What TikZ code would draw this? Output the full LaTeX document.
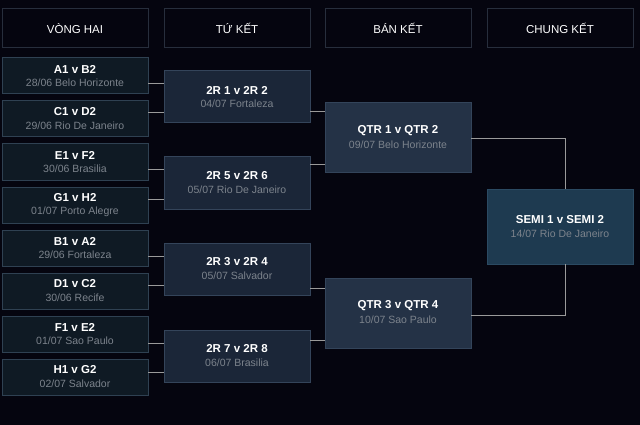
\documentclass[tikz,border=0pt]{standalone}
\usepackage{fontspec}
\setmainfont{Liberation Sans}
\usetikzlibrary{calc}
\definecolor{bgc}{HTML}{05050F}
\definecolor{hdrbd}{HTML}{272E3C}
\definecolor{rtwofill}{HTML}{0F1A24}
\definecolor{rtwobd}{HTML}{2F4152}
\definecolor{qffill}{HTML}{1B2638}
\definecolor{qfbd}{HTML}{34445A}
\definecolor{sffill}{HTML}{243246}
\definecolor{sfbd}{HTML}{33445A}
\definecolor{finfill}{HTML}{1E3A50}
\definecolor{finbd}{HTML}{2B4A62}
\definecolor{subc}{HTML}{7C838C}
\definecolor{linec}{HTML}{9A9A9A}
\tikzset{
  box/.style={draw, line width=1pt, minimum width=146pt, inner sep=0pt, outer sep=0pt},
  hdr/.style={box, draw=hdrbd, fill=bgc, minimum height=39pt, text=white, font=\fontsize{11.5}{13}\selectfont},
  rtwo/.style={box, draw=rtwobd, fill=rtwofill, minimum height=36pt},
  qf/.style={box, draw=qfbd, fill=qffill, minimum height=52pt},
  sf/.style={box, draw=sfbd, fill=sffill, minimum height=70pt},
  fin/.style={box, draw=finbd, fill=finfill, minimum height=75pt},
  ttl/.style={text=white, font=\bfseries\fontsize{11.5}{13}\selectfont, inner sep=0pt},
  subt/.style={text=subc, font=\fontsize{10.5}{12}\selectfont, inner sep=0pt},
  conn/.style={draw=linec, line width=1pt}
}
\newcommand\matchbox[6]{%
  \node[#6] (#1) at (#2) {};
  \node[ttl] (#1t) at ($(#1.center)+(0,-7)$) {#4};
  \node[subt] (#1s) at ($(#1.center)+(0,7)$) {#5};
}
\begin{document}
\begin{tikzpicture}[x=1pt,y=-1pt]
\fill[bgc] (0,0) rectangle (640,425);
\useasboundingbox (0,0) rectangle (640,425);
% headers
\node[hdr] (h1) at (75,28.5) {VÒNG HAI};
\node[hdr] (h2) at (237,28.5) {TỨ KẾT};
\node[hdr] (h3) at (398,28.5) {BÁN KẾT};
\node[hdr] (h4) at (560,28.5) {CHUNG KẾT};
% round two
\matchbox{ra}{75,76}{}{A1 v B2}{28/06 Belo Horizonte}{rtwo}
\matchbox{rb}{75,119}{}{C1 v D2}{29/06 Rio De Janeiro}{rtwo}
\matchbox{rc}{75,162}{}{E1 v F2}{30/06 Brasilia}{rtwo}
\matchbox{rd}{75,205}{}{G1 v H2}{01/07 Porto Alegre}{rtwo}
\matchbox{re}{75,248}{}{B1 v A2}{29/06 Fortaleza}{rtwo}
\matchbox{rf}{75,291}{}{D1 v C2}{30/06 Recife}{rtwo}
\matchbox{rg}{75,334}{}{F1 v E2}{01/07 Sao Paulo}{rtwo}
\matchbox{rh}{75,377}{}{H1 v G2}{02/07 Salvador}{rtwo}
% quarter finals
\matchbox{qa}{237,97}{}{2R 1 v 2R 2}{04/07 Fortaleza}{qf}
\matchbox{qb}{237,183}{}{2R 5 v 2R 6}{05/07 Rio De Janeiro}{qf}
\matchbox{qc}{237,269}{}{2R 3 v 2R 4}{05/07 Salvador}{qf}
\matchbox{qd}{237,356}{}{2R 7 v 2R 8}{06/07 Brasilia}{qf}
% semi finals
\matchbox{sa}{398,138}{}{QTR 1 v QTR 2}{09/07 Belo Horizonte}{sf}
\matchbox{sb}{398,313}{}{QTR 3 v QTR 4}{10/07 Sao Paulo}{sf}
% final
\matchbox{fa}{560,226.5}{}{SEMI 1 v SEMI 2}{14/07 Rio De Janeiro}{fin}
% connectors round two -> quarter
\foreach \r/\q in {ra/qa, rc/qb, re/qc, rg/qd}{
  \draw[conn] (\r.east |- {$(\q.north)+(0,13)$}) -- (\q.west |- {$(\q.north)+(0,13)$});
}
\foreach \r/\q in {rb/qa, rd/qb, rf/qc, rh/qd}{
  \draw[conn] (\r.east |- {$(\q.north)+(0,42)$}) -- (\q.west |- {$(\q.north)+(0,42)$});
}
% quarter -> semi
\draw[conn] (qa.east |- {$(sa.north)+(0,9)$}) -- (sa.west |- {$(sa.north)+(0,9)$});
\draw[conn] (qb.east |- {$(sa.south)+(0,-8)$}) -- (sa.west |- {$(sa.south)+(0,-8)$});
\draw[conn] (qc.east |- {$(sb.north)+(0,10)$}) -- (sb.west |- {$(sb.north)+(0,10)$});
\draw[conn] (qd.east |- {$(sb.south)+(0,-8)$}) -- (sb.west |- {$(sb.south)+(0,-8)$});
% semi -> final
\coordinate (fx) at ($(fa.center)+(5,0)$);
\draw[conn] ($(sa.east)+(0,1)$) -- ($(fx |- sa.east)+(0,1)$) -- (fx |- fa.north);
\draw[conn] ($(sb.east)+(0,2)$) -- ($(fx |- sb.east)+(0,2)$) -- (fx |- fa.south);
\end{tikzpicture}
\end{document}
